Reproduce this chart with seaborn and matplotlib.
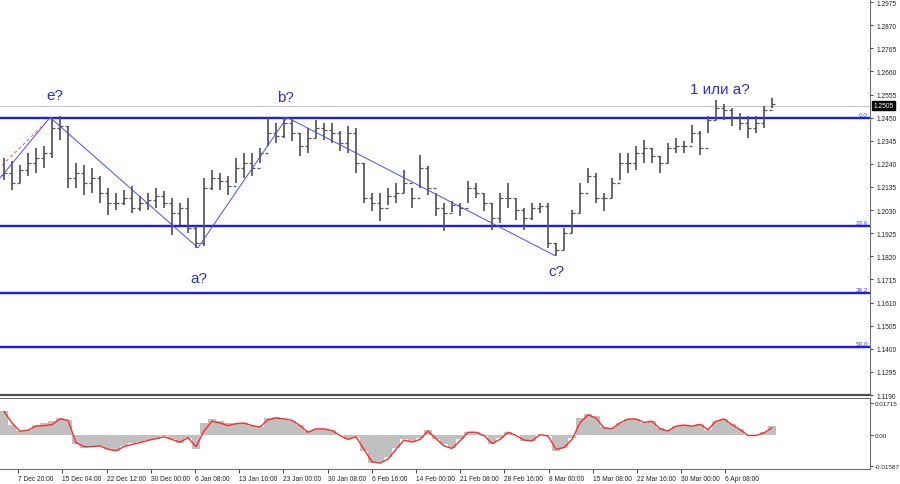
import numpy as np
import pandas as pd
import matplotlib
matplotlib.use("Agg")
import matplotlib.pyplot as plt
import matplotlib.transforms as mtransforms
import seaborn as sns

# ---------------- data ----------------
high = [1.2266, 1.2252, 1.2234, 1.2288, 1.2311, 1.2320, 1.2451, 1.2456, 1.2410, 1.2243,
        1.2234, 1.2221, 1.2184, 1.2130, 1.2108, 1.2121, 1.2139, 1.2094, 1.2108, 1.2130,
        1.2117, 1.2085, 1.2062, 1.2085, 1.1958, 1.2175, 1.2212, 1.2198, 1.2184, 1.2266,
        1.2288, 1.2288, 1.2311, 1.2447, 1.2424, 1.2451, 1.2447, 1.2379, 1.2401, 1.2438,
        1.2424, 1.2424, 1.2388, 1.2410, 1.2401, 1.2243, 1.2108, 1.2108, 1.2130, 1.2153,
        1.2212, 1.2130, 1.2279, 1.2230, 1.2108, 1.2062, 1.2071, 1.2062, 1.2162, 1.2153,
        1.2108, 1.2062, 1.2108, 1.2153, 1.2085, 1.2040, 1.2062, 1.2062, 1.2062, 1.1882,
        1.1949, 1.2031, 1.2153, 1.2221, 1.2198, 1.2108, 1.2175, 1.2288, 1.2288, 1.2320,
        1.2347, 1.2311, 1.2275, 1.2334, 1.2356, 1.2343, 1.2415, 1.2388, 1.2456, 1.2528,
        1.2514, 1.2492, 1.2469, 1.2456, 1.2456, 1.2501, 1.2537]
low = [1.2166, 1.2121, 1.2153, 1.2184, 1.2198, 1.2221, 1.2266, 1.2347, 1.2130, 1.2130,
       1.2099, 1.2108, 1.2062, 1.2008, 1.2031, 1.2054, 1.2017, 1.2026, 1.2031, 1.2040,
       1.2040, 1.1918, 1.1963, 1.1927, 1.1859, 1.1868, 1.2121, 1.2121, 1.2099, 1.2153,
       1.2175, 1.2184, 1.2243, 1.2320, 1.2334, 1.2356, 1.2343, 1.2275, 1.2288, 1.2356,
       1.2347, 1.2334, 1.2297, 1.2288, 1.2198, 1.2062, 1.2026, 1.1981, 1.2054, 1.2062,
       1.2108, 1.2040, 1.2130, 1.2099, 1.2004, 1.1936, 1.2022, 1.2004, 1.2062, 1.2085,
       1.2026, 1.1940, 1.1972, 1.2040, 1.1986, 1.1940, 1.1986, 1.2017, 1.1859, 1.1823,
       1.1850, 1.1927, 1.2017, 1.2153, 1.2062, 1.2026, 1.2085, 1.2166, 1.2198, 1.2212,
       1.2243, 1.2243, 1.2198, 1.2243, 1.2288, 1.2288, 1.2334, 1.2279, 1.2379, 1.2438,
       1.2438, 1.2410, 1.2392, 1.2356, 1.2379, 1.2401, 1.2492]
close = [1.2198, 1.2153, 1.2212, 1.2243, 1.2266, 1.2288, 1.2401, 1.2410, 1.2175, 1.2198,
         1.2153, 1.2175, 1.2108, 1.2062, 1.2062, 1.2085, 1.2040, 1.2062, 1.2076, 1.2094,
         1.2062, 1.2017, 1.2040, 1.1949, 1.1882, 1.2130, 1.2175, 1.2162, 1.2139, 1.2221,
         1.2243, 1.2221, 1.2288, 1.2379, 1.2365, 1.2424, 1.2379, 1.2320, 1.2356, 1.2401,
         1.2392, 1.2379, 1.2334, 1.2379, 1.2243, 1.2085, 1.2062, 1.2040, 1.2094, 1.2108,
         1.2153, 1.2085, 1.2221, 1.2130, 1.2040, 1.2017, 1.2054, 1.2040, 1.2130, 1.2108,
         1.2062, 1.1995, 1.2085, 1.2085, 1.2031, 1.1995, 1.2040, 1.2050, 1.1882, 1.1850,
         1.1927, 1.2017, 1.2108, 1.2184, 1.2085, 1.2085, 1.2153, 1.2243, 1.2243, 1.2288,
         1.2311, 1.2275, 1.2243, 1.2311, 1.2320, 1.2320, 1.2379, 1.2311, 1.2438, 1.2492,
         1.2483, 1.2447, 1.2424, 1.2401, 1.2424, 1.2483, 1.2514]
first_open = 1.2190

osma = [0.0127, 0.0057, 0.0023, 0.0031, 0.0057, 0.0066, 0.0075, 0.0092, 0.0083, -0.0047,
        -0.0064, -0.0059, -0.0055, -0.0073, -0.0081, -0.0055, -0.0038, -0.0035, -0.0024, -0.0017,
        -0.0003, -0.0017, -0.0038, -0.0012, -0.0069, 0.0066, 0.0087, 0.0075, 0.0066, 0.0066,
        0.0066, 0.0052, 0.0045, 0.0092, 0.0097, 0.0087, 0.0078, 0.0057, 0.0023, 0.0036,
        0.0035, 0.0028, 0.0000, -0.0021, -0.0009, -0.0081, -0.0146, -0.0142, -0.0116, -0.0064,
        -0.0021, -0.0029, -0.0012, 0.0028, -0.0017, -0.0047, -0.0064, -0.0021, 0.0017, 0.0017,
        -0.0003, -0.0047, -0.0012, 0.0019, 0.0000, -0.0029, -0.0029, 0.0005, -0.0003, -0.0081,
        -0.0064, -0.0012, 0.0092, 0.0114, 0.0101, 0.0045, 0.0040, 0.0066, 0.0088, 0.0087,
        0.0066, 0.0078, 0.0040, 0.0028, 0.0052, 0.0057, 0.0052, 0.0061, 0.0031, 0.0075,
        0.0087, 0.0061, 0.0035, 0.0005, 0.0005, 0.0017, 0.0052]
signal = [0.0127, 0.0066, 0.0023, 0.0028, 0.0049, 0.0052, 0.0057, 0.0087, 0.0080, -0.0038,
          -0.0059, -0.0059, -0.0055, -0.0073, -0.0081, -0.0059, -0.0047, -0.0038, -0.0026, -0.0017,
          -0.0007, -0.0021, -0.0035, -0.0012, -0.0059, 0.0023, 0.0075, 0.0066, 0.0052, 0.0062,
          0.0066, 0.0052, 0.0045, 0.0083, 0.0092, 0.0088, 0.0080, 0.0052, 0.0017, 0.0035,
          0.0035, 0.0026, 0.0000, -0.0021, -0.0007, -0.0073, -0.0139, -0.0146, -0.0125, -0.0073,
          -0.0024, -0.0035, -0.0021, 0.0023, -0.0017, -0.0055, -0.0069, -0.0029, 0.0017, 0.0017,
          0.0000, -0.0042, -0.0021, 0.0017, 0.0000, -0.0024, -0.0029, 0.0005, -0.0003, -0.0073,
          -0.0064, -0.0021, 0.0066, 0.0109, 0.0092, 0.0040, 0.0036, 0.0066, 0.0087, 0.0087,
          0.0069, 0.0075, 0.0035, 0.0024, 0.0049, 0.0055, 0.0049, 0.0059, 0.0031, 0.0075,
          0.0087, 0.0057, 0.0031, 0.0000, 0.0000, 0.0014, 0.0040]

price_ticks = [1.2975, 1.2870, 1.2765, 1.2660, 1.2555, 1.2450, 1.2345, 1.2240, 1.2135,
               1.2030, 1.1925, 1.1820, 1.1715, 1.1610, 1.1505, 1.1400, 1.1295, 1.1190]
osma_ticks = [0.01715, 0.00, -0.01587]
osma_tick_labels = ["0.01715", "0.00", "-0.01587"]
date_labels = ["30 Nov 12:00", "7 Dec 20:00", "15 Dec 04:00", "22 Dec 12:00", "30 Dec 00:00",
               "6 Jan 08:00", "13 Jan 16:00", "23 Jan 00:00", "30 Jan 08:00", "6 Feb 16:00",
               "14 Feb 00:00", "21 Feb 08:00", "28 Feb 16:00", "8 Mar 00:00", "15 Mar 08:00",
               "22 Mar 16:00", "30 Mar 00:00", "6 Apr 08:00"]
fib_levels = [1.2449, 1.1958, 1.1654, 1.1409]
fib_names = ["0.0", "23.6", "38.2", "50.0"]
wave_x = [-0.5, 5.75, 24.25, 35.375, 68.875]
wave_price = [1.2175, 1.2451, 1.1859, 1.2451, 1.1823]
last_price = 1.2505

# ---------------- drawing ----------------
sns.set_theme(style="white")
plt.rcParams["font.family"] = ["Liberation Sans", "DejaVu Sans"]

fig = plt.figure(figsize=(9.0, 4.85), dpi=100)
W, H = 900.0, 485.0
ax = fig.add_axes([0.0, 1 - 396 / H, 870 / W, 396 / H])
ax2 = fig.add_axes([0.0, 1 - 470 / H, 870 / W, 71 / H], sharex=ax)

x = np.arange(len(close))
opens = [first_open] + close[:-1]
df = pd.DataFrame({"x": x, "high": high, "low": low, "open": opens, "close": close,
                   "osma": osma, "signal": signal})

blue = "#1a1aff"
label_blue = "#2b2be8"

# current price line
ax.axhline(last_price, color="#c8c8c8", lw=0.8, zorder=1)

# fib levels
for lvl, name in zip(fib_levels, fib_names):
    ax.axhline(lvl, color=blue, lw=1.7, zorder=2)
    ax.text(108.0, lvl + 0.0004, name, color="#4a4aff", fontsize=4.6,
            ha="right", va="bottom", zorder=5)

# price bars
bar_col = "#555555"
ax.vlines(df["x"], df["low"], df["high"], color=bar_col, lw=1.25, zorder=3)
ax.hlines(df["open"], df["x"] - 0.35, df["x"], color=bar_col, lw=0.9, zorder=3)
ax.hlines(df["close"], df["x"], df["x"] + 0.35, color=bar_col, lw=0.9, zorder=3)

# wave lines
ax.plot(wave_x, wave_price, color="#4b4bff", lw=0.7, zorder=4)
ax.plot([-0.25, 5.375], [1.2234, 1.2433], color="#ff5050", lw=0.7, ls=(0, (3, 3)), zorder=4)

# wave labels
for tx, ty, s in [(6.4, 1.2551, "e?"), (35.2, 1.2542, "b?"), (24.4, 1.1723, "a?"),
                  (69.0, 1.1755, "c?"), (89.5, 1.2582, "1 или а?")]:
    ax.text(tx, ty, s, color=label_blue, fontsize=11, ha="center", va="center", zorder=5)

ax.set_xlim(-0.5, 108.25)
ax.set_ylim(1.1199, 1.2989)
ax.yaxis.tick_right()
ax.set_yticks(price_ticks)
ax.set_yticklabels([f"{t:.4f}" for t in price_ticks])
ax.tick_params(axis="y", which="both", right=True, length=2.5, width=0.6, pad=2,
               labelsize=4.8, colors="#222222", direction="out")
ax.tick_params(axis="x", bottom=False, labelbottom=False)
for s in ["left", "top"]:
    ax.spines[s].set_visible(False)
ax.spines["right"].set_color("#707070")
ax.spines["right"].set_linewidth(0.8)
ax.spines["bottom"].set_color("#505050")
ax.spines["bottom"].set_linewidth(1.6)

# current price box
trans = mtransforms.blended_transform_factory(ax.transAxes, ax.transData)
ax.text(1.004, last_price, "1.2505", transform=trans, fontsize=4.8, color="white",
        ha="left", va="center", zorder=6, clip_on=False,
        bbox=dict(boxstyle="square,pad=0.2", fc="black", ec="black"))

# indicator panel
ax2.bar(df["x"], df["osma"], width=1.0, color="#c0c0c0", edgecolor="none", zorder=2)
sns.lineplot(data=df, x="x", y="signal", ax=ax2, color="#ff2a2a", lw=1.0, zorder=3)
ax2.set_ylim(-0.0177, 0.0198)
ax2.set_xlabel("")
ax2.set_ylabel("")
ax2.yaxis.tick_right()
ax2.set_yticks(osma_ticks)
ax2.set_yticklabels(osma_tick_labels)
ax2.tick_params(axis="y", right=True, length=2, width=0.6, pad=1.5, labelsize=4.5,
                colors="#222222", direction="out")
date_pos = [-3.75 + 5.525 * k for k in range(len(date_labels))]
ax2.set_xticks(date_pos)
ax2.set_xticklabels(date_labels)
ax2.tick_params(axis="x", bottom=True, length=3, width=0.6, pad=1.5, labelsize=4.8,
                colors="#222222", direction="out")
for lab in ax2.get_xticklabels():
    lab.set_horizontalalignment("left")
ax2.spines["left"].set_visible(False)
for s in ["top", "right", "bottom"]:
    ax2.spines[s].set_color("#707070")
    ax2.spines[s].set_linewidth(0.8)
ax2.set_xlim(-0.5, 108.25)

fig.savefig("out.png", dpi=100, facecolor="white")
